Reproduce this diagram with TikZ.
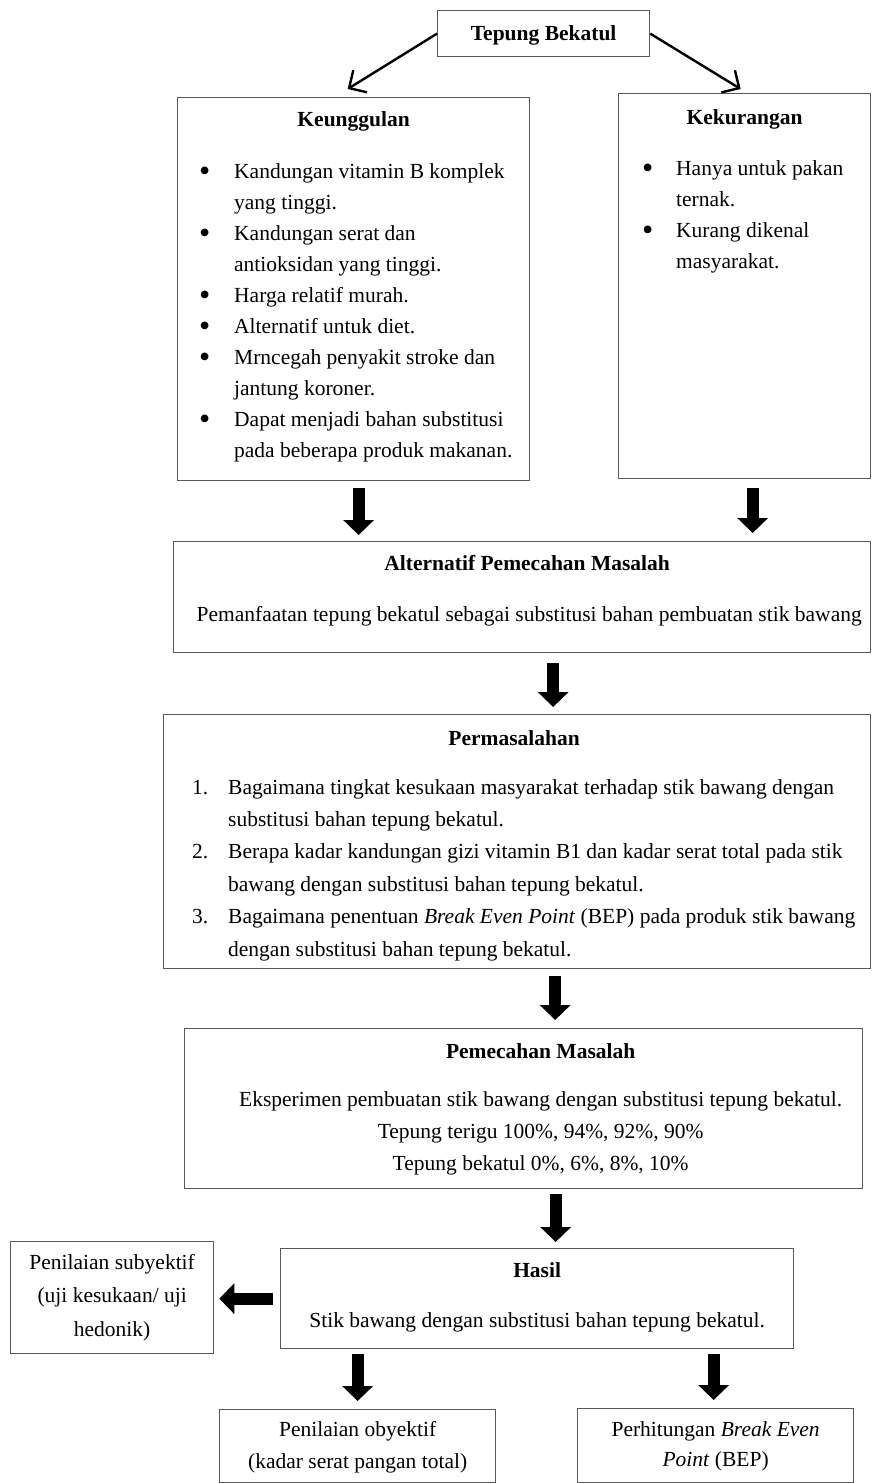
\documentclass[tikz,border=0pt]{standalone}
\usepackage{fontspec}
\setmainfont{Liberation Serif}
\usetikzlibrary{arrows.meta, positioning, calc}

\newcommand{\stack}[2]{{\fontsize{21.5}{#1}\selectfont\begin{tabular}[t]{@{}c@{}}#2\end{tabular}}}
\newcommand{\bul}{\raisebox{-3pt}{\fontsize{32}{31}\selectfont\textbullet}}

\tikzset{
  box/.style={draw=black!65, line width=1.3pt, rectangle, inner sep=0pt, anchor=north west},
  txt/.style={inner sep=0pt, anchor=base},
  lst/.style={inner sep=0pt, anchor=base west},
  fat/.style={line width=12pt, -{Triangle[length=15pt,width=30pt]}},
  thinarr/.style={line width=2.4pt, -{Straight Barb[length=13pt,width=26pt]}}
}

\begin{document}
\begin{tikzpicture}[x=1pt, y=-1pt, font=\fontsize{21.5}{31}\selectfont]
    \useasboundingbox (0,0) rectangle (871,1483);

    % Boxes
    \node[box, minimum width=212pt, minimum height=46pt] (tb) at (437,10) {};
    \node[box, minimum width=352pt, minimum height=383pt] (kg) at (177,97) {};
    \node[box, minimum width=252pt, minimum height=385pt] (kk) at (618,93) {};
    \node[box, minimum width=697pt, minimum height=111pt] (alt) at (173,541) {};
    \node[box, minimum width=707pt, minimum height=254pt] (msl) at (163,714) {};
    \node[box, minimum width=678pt, minimum height=160pt] (pmc) at (184,1028) {};
    \node[box, minimum width=513pt, minimum height=100pt] (hsl) at (280,1248) {};
    \node[box, minimum width=203pt, minimum height=112pt] (subj) at (10,1241) {};
    \node[box, minimum width=276pt, minimum height=73pt] (obj) at (219,1409) {};
    \node[box, minimum width=276pt, minimum height=74pt] (bep) at (577,1408) {};

    % Tepung Bekatul
    \node[txt] (tbT) at ([yshift=-30pt]tb.north) {\textbf{Tepung Bekatul}};

    % Keunggulan
    \node[txt] (kgT) at ([yshift=-29pt]kg.north) {\textbf{Keunggulan}};
    \node[lst] (kgL) at ([shift={(22pt,-81pt)}]kg.north west) {\begin{tabular}[t]{@{}p{35pt}@{}l@{}}
        \bul & Kandungan vitamin B komplek\\
             & yang tinggi.\\
        \bul & Kandungan serat dan\\
             & antioksidan yang tinggi.\\
        \bul & Harga relatif murah.\\
        \bul & Alternatif untuk diet.\\
        \bul & Mrncegah penyakit stroke dan\\
             & jantung koroner.\\
        \bul & Dapat menjadi bahan substitusi\\
             & pada beberapa produk makanan.
    \end{tabular}};

    % Kekurangan
    \node[txt] (kkT) at ([yshift=-31pt]kk.north) {\textbf{Kekurangan}};
    \node[lst] (kkL) at ([shift={(24pt,-82pt)}]kk.north west) {\begin{tabular}[t]{@{}p{34pt}@{}l@{}}
        \bul & Hanya untuk pakan\\
             & ternak.\\
        \bul & Kurang dikenal\\
             & masyarakat.
    \end{tabular}};

    % Alternatif Pemecahan Masalah
    \node[txt] (altT) at ([shift={(5pt,-29pt)}]alt.north) {\textbf{Alternatif Pemecahan Masalah}};
    \node[txt] (altB) at ([shift={(7pt,-80pt)}]alt.north) {Pemanfaatan tepung bekatul sebagai substitusi bahan pembuatan stik bawang};

    % Permasalahan
    \node[txt] (mslT) at ([shift={(-3pt,-31pt)}]msl.north) {\textbf{Permasalahan}};
    \node[lst] (mslL) at ([shift={(29pt,-80pt)}]msl.north west) {\fontsize{21.5}{32.4}\selectfont\begin{tabular}[t]{@{}p{36pt}@{}l@{}}
        1. & Bagaimana tingkat kesukaan masyarakat terhadap stik bawang dengan\\
           & substitusi bahan tepung bekatul.\\
        2. & Berapa kadar kandungan gizi vitamin B1 dan kadar serat total pada stik\\
           & bawang dengan substitusi bahan tepung bekatul.\\
        3. & Bagaimana penentuan \textit{Break Even Point} (BEP) pada produk stik bawang\\
           & dengan substitusi bahan tepung bekatul.
    \end{tabular}};

    % Pemecahan Masalah
    \node[txt] (pmcT) at ([shift={(17pt,-30pt)}]pmc.north) {\textbf{Pemecahan Masalah}};
    \node[txt] (pmcB) at ([shift={(17pt,-78pt)}]pmc.north) {\stack{32}{Eksperimen pembuatan stik bawang dengan substitusi tepung bekatul.\\
        Tepung terigu 100\%, 94\%, 92\%, 90\%\\
        Tepung bekatul 0\%, 6\%, 8\%, 10\%}};

    % Hasil
    \node[txt] (hslT) at ([yshift=-29pt]hsl.north) {\textbf{Hasil}};
    \node[txt] (hslB) at ([yshift=-79pt]hsl.north) {Stik bawang dengan substitusi bahan tepung bekatul.};

    % Penilaian dan perhitungan
    \node[txt] (subjT) at ([yshift=-28pt]subj.north) {\stack{33.5}{Penilaian subyektif\\ (uji kesukaan/ uji\\ hedonik)}};
    \node[txt] (objT) at ([yshift=-27pt]obj.north) {\stack{32}{Penilaian obyektif\\ (kadar serat pangan total)}};
    \node[txt] (bepT) at ([yshift=-28pt]bep.north) {\stack{30}{Perhitungan \textit{Break Even}\\ \textit{Point} (BEP)}};

    % Thin arrows from top
    \draw[thinarr] (tb.west) -- ($(kg.north)+(-6,-8)$);
    \draw[thinarr] (tb.east) -- ($(kk.north)+(-4,-4)$);

    % Fat arrows
    \draw[fat, shorten <=7pt, shorten >=6pt] ($(kg.south)+(5,0)$) -- ($(kg.south |- alt.north)+(5,0)$);
    \draw[fat, shorten <=9pt, shorten >=8pt] ($(kk.south)+(8,0)$) -- ($(kk.south |- alt.north)+(8,0)$);
    \draw[fat, shorten <=10pt, shorten >=7pt] ($(alt.south)+(31,0)$) -- ($(alt.south |- msl.north)+(31,0)$);
    \draw[fat, shorten <=7pt, shorten >=8pt] ($(msl.south)+(38,0)$) -- ($(msl.south |- pmc.north)+(38,0)$);
    \draw[fat, shorten <=5pt, shorten >=6pt] ($(pmc.south)+(32,0)$) -- ($(pmc.south |- hsl.north)+(32,0)$);
    \draw[fat, shorten <=7pt, shorten >=5pt] (hsl.west) -- (hsl.west -| subj.east);
    \draw[fat, shorten <=5pt, shorten >=8pt] (obj.north |- hsl.south) -- (obj.north);
    \draw[fat, shorten <=5pt, shorten >=8pt] ($(bep.north |- hsl.south)+(-2,0)$) -- ($(bep.north)+(-2,0)$);
\end{tikzpicture}
\end{document}
